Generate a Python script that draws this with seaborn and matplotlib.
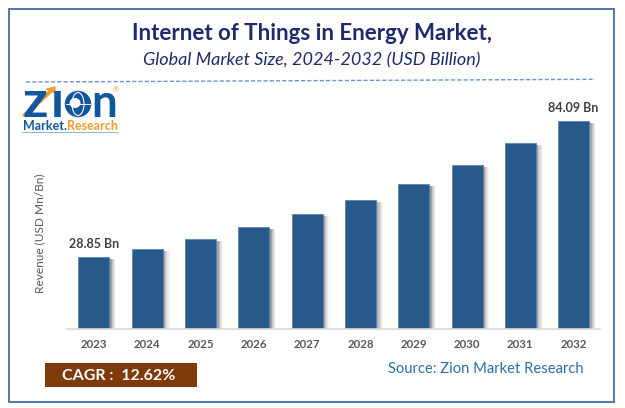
import pandas as pd
import matplotlib.pyplot as plt
import matplotlib.patheffects as pe
from matplotlib.lines import Line2D
from matplotlib.patches import Ellipse, FancyArrow, Rectangle
import seaborn as sns

years = ["2023", "2024", "2025", "2026", "2027", "2028", "2029", "2030", "2031", "2032"]
revenue = [28.85, 32.3, 36.4, 41.2, 46.5, 52.2, 58.7, 66.4, 75.0, 84.09]
bar_labels = ["28.85 Bn", "", "", "", "", "", "", "", "", "84.09 Bn"]

W, H = 625, 408
NAVY = "#1f2a6e"
GREY = "#595959"

sns.set_theme(style="white")
plt.rcParams["font.family"] = ["Lato", "DejaVu Sans"]


# pixel helpers, origin top left like the picture
def fx(px):
    return px / W


def fy(py):
    return 1 - py / H


df = pd.DataFrame({"Year": years, "Revenue": revenue})

fig = plt.figure(figsize=(W / 100, H / 100), dpi=100, facecolor="white")
ax = fig.add_axes([fx(67.3), fy(328.5), 533 / W, 238.5 / H])

sns.barplot(data=df, x="Year", y="Revenue", color="#275a8a", saturation=1, width=0.58, ax=ax)
ax.set_xlim(-0.5, 9.5)
ax.set_ylim(0, 238.5 / 2.468)
ax.set_xlabel("")
ax.set_ylabel("")
ax.set_yticks([])
ax.tick_params(axis="x", length=0, pad=7.5, labelsize=8.3, labelcolor=GREY)
for t in ax.get_xticklabels():
    t.set_fontweight("bold")
sns.despine(ax=ax, left=True)
ax.spines["bottom"].set_color("#d9d9d9")
ax.spines["bottom"].set_linewidth(1.2)

# soft drop shadow to the right of every bar
shadow = [pe.SimplePatchShadow(offset=(o, -1.5), shadow_rgbFace="#000000", alpha=a)
          for o, a in [(5, 0.03), (4.2, 0.05), (3.4, 0.07), (2.6, 0.1), (1.8, 0.13), (1, 0.16)]]
for bar in ax.patches:
    bar.set_path_effects(shadow + [pe.Normal()])
    bar.set_edgecolor("#5f86ab")
    bar.set_linewidth(0.6)

ax.bar_label(ax.containers[0], labels=bar_labels, padding=5, fontsize=9, fontweight="bold", color="#404040")

# page frame
fig.add_artist(Rectangle((fx(8.7), fy(401.5)), 605.5 / W, 393 / H, transform=fig.transFigure,
                         fill=False, edgecolor="#3f6fa3", linewidth=1.3))

# titles
fig.text(fx(312), fy(33), "Internet of Things in Energy Market,", ha="center", va="center",
         fontsize=16, fontweight="bold", color=NAVY)
fig.text(fx(312), fy(60), "Global Market Size, 2024-2032 (USD Billion)", ha="center", va="center",
         fontsize=13, fontstyle="italic", color=NAVY)
fig.add_artist(Line2D([fx(26), fx(595)], [fy(82), fy(79.3)], transform=fig.transFigure,
                      color="#6a94cf", linewidth=1, linestyle=(0, (3, 1.5))))

# y axis title
fig.text(fx(40), fy(233), "Revenue (USD Mn/Bn)", rotation=90, ha="center", va="center",
         fontsize=8.6, color=GREY)

# CAGR box and source
fig.add_artist(Rectangle((fx(45), fy(387)), 152 / W, 24 / H, transform=fig.transFigure,
                         facecolor="#7f3a0b", edgecolor="none"))
fig.text(fx(119), fy(375.5), "CAGR :  12.62%", ha="center", va="center",
         fontsize=11.5, fontweight="bold", color="white")
fig.text(fx(486), fy(369), "Source: Zion Market Research", ha="center", va="center",
         fontsize=10.6, color="#2e6ca6")

# logo
LOGO_BLUE = "#10589c"
LOGO_ORANGE = "#f39a2e"
fig.text(fx(22), fy(117), "Z", ha="left", va="baseline", fontsize=25, fontweight="bold",
         family="DejaVu Sans", color=LOGO_BLUE)
fig.text(fx(51), fy(117), "I", ha="left", va="baseline", fontsize=25, fontweight="bold",
         family="DejaVu Sans", color=LOGO_BLUE)
fig.text(fx(91), fy(117), "n", ha="left", va="baseline", fontsize=33, fontweight="bold", color=LOGO_BLUE)
fig.add_artist(Ellipse((fx(78), fy(104)), 25 / W, 25 / H, transform=fig.transFigure,
                       facecolor=LOGO_BLUE, edgecolor=LOGO_BLUE, linewidth=1))
fig.add_artist(Ellipse((fx(78), fy(104)), 12 / W, 23 / H, transform=fig.transFigure,
                       facecolor="none", edgecolor="white", linewidth=0.8))
fig.add_artist(Ellipse((fx(75), fy(103)), 11 / W, 10 / H, transform=fig.transFigure,
                       facecolor="white", edgecolor="none"))
fig.add_artist(Line2D([fx(66), fx(90)], [fy(104), fy(104)], transform=fig.transFigure,
                      color="white", linewidth=0.7))
fig.add_artist(FancyArrow(fx(24), fy(116), fx(55) - fx(24), fy(87) - fy(116), transform=fig.transFigure,
                          width=0.005, head_width=0.016, head_length=0.012, length_includes_head=True,
                          color=LOGO_ORANGE))
fig.text(fx(115.5), fy(90), "®", ha="center", va="center", fontsize=5, color=LOGO_ORANGE)
fig.text(fx(23), fy(130), "Market.", ha="left", va="baseline", fontsize=9, fontweight="bold", color=LOGO_BLUE)
fig.text(fx(66.5), fy(130), "Research", ha="left", va="baseline", fontsize=9, fontweight="bold", color=LOGO_ORANGE)
fig.add_artist(Line2D([fx(22), fx(118)], [fy(131.5), fy(131.5)], transform=fig.transFigure,
                      color="#8fb4d9", linewidth=0.7))

fig.savefig("out.png", dpi=100)
plt.close(fig)
